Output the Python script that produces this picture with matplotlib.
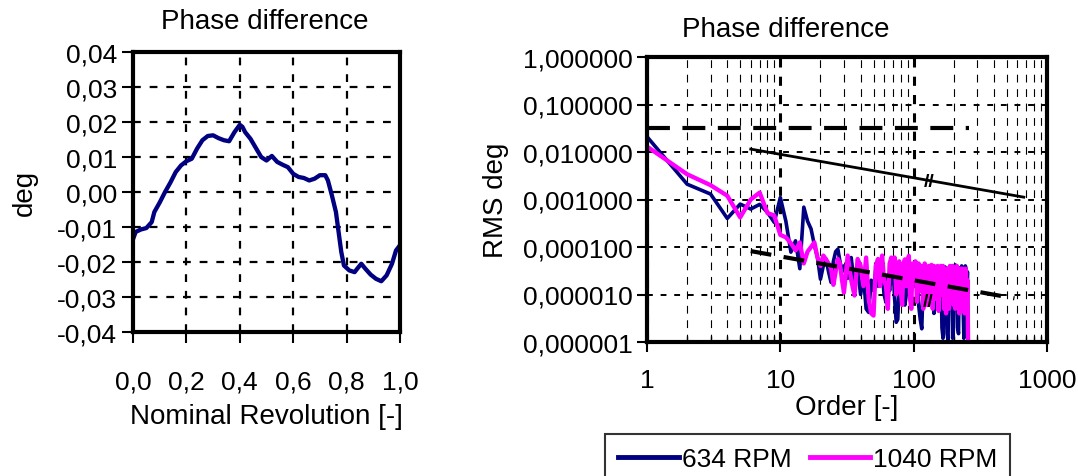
import matplotlib.pyplot as plt
from matplotlib.ticker import NullLocator, LogLocator

plt.rcParams['font.family'] = ['Liberation Sans', 'DejaVu Sans']

# left chart: phase difference over one nominal revolution
rev = [0.0, 0.01, 0.03, 0.05, 0.07, 0.08, 0.10, 0.12, 0.14, 0.16, 0.18, 0.20,
       0.22, 0.24, 0.26, 0.28, 0.30, 0.32, 0.34, 0.36, 0.38, 0.40, 0.41, 0.42,
       0.44, 0.46, 0.48, 0.50, 0.52, 0.54, 0.56, 0.58, 0.60, 0.62, 0.64, 0.66,
       0.68, 0.70, 0.72, 0.73, 0.745, 0.76, 0.77, 0.78, 0.79, 0.81, 0.83, 0.84,
       0.855, 0.87, 0.89, 0.91, 0.93, 0.95, 0.97, 0.985, 1.0]
phase = [-0.0135, -0.0114, -0.0107, -0.0103, -0.0086, -0.0057, -0.0030, 0.0000,
         0.0027, 0.0057, 0.0076, 0.0088, 0.0095, 0.0124, 0.0148, 0.0160, 0.0162,
         0.0154, 0.0148, 0.0145, 0.0171, 0.0192, 0.0186, 0.0171, 0.0152, 0.0126,
         0.0100, 0.0090, 0.0103, 0.0086, 0.0078, 0.0071, 0.0052, 0.0043, 0.0040,
         0.0033, 0.0038, 0.0048, 0.0048, 0.0033, -0.0010, -0.0057, -0.0114,
         -0.0171, -0.0210, -0.0224, -0.0229, -0.0219, -0.0205, -0.0219, -0.0236,
         -0.0248, -0.0255, -0.0238, -0.0205, -0.0167, -0.0152]
left_xticks = [0.0, 0.2, 0.4, 0.6, 0.8, 1.0]
left_xlabels = ["0,0", "0,2", "0,4", "0,6", "0,8", "1,0"]
left_yticks = [0.04, 0.03, 0.02, 0.01, 0.0, -0.01, -0.02, -0.03, -0.04]
left_ylabels = ["0,04", "0,03", "0,02", "0,01", "0,00", "-0,01", "-0,02", "-0,03", "-0,04"]

# right chart: RMS spectrum, harmonic orders
orders = [1, 2, 3, 4, 5, 6, 7, 8, 9, 10,
          11, 12, 13, 14, 15, 16, 17, 18, 19, 20,
          21, 22, 23, 24, 25, 26, 27, 28, 29, 30,
          32, 34, 36, 38, 40, 42, 44, 46, 48, 50,
          52, 54, 56, 58, 60, 62, 64, 66, 68, 70,
          72, 74, 76, 78, 80, 82, 84, 86, 88, 90,
          92, 94, 96, 98, 100,
          103, 106, 109, 112, 115, 118, 121, 124, 127, 130,
          133, 136, 139, 142, 145, 148, 151, 154, 157, 160,
          163, 166, 169, 172, 175, 178, 181, 184, 187, 190,
          193, 196, 199, 202, 205, 208, 211, 214, 217, 220,
          223, 226, 229, 232, 235, 238, 241, 244, 247, 250,
          253, 256]
rms_634 = [2.1e-2, 2.1e-3, 1.3e-3, 4.0e-4, 8.0e-4, 6.3e-4, 7.9e-4, 5.4e-4, 3.3e-4, 1.1e-3,
           3.5e-4, 7.8e-5, 1.35e-4, 3.5e-5, 6.9e-4, 3.5e-4, 2.4e-4, 1.1e-4, 6.0e-5, 2.1e-5,
           4.0e-5, 5.6e-5, 3.0e-5, 1.8e-5, 5.0e-5, 8.0e-5, 9.0e-5, 5.0e-5, 3.0e-5, 4.0e-5,
           2.2e-5, 6.0e-5, 1.5e-5, 3.5e-5, 1.0e-5, 2.5e-5, 5.0e-6, 4.2e-6, 2.0e-5, 1.2e-5,
           3.5e-5, 1.5e-5, 2.1e-5, 3.0e-5, 1.0e-5, 6.8e-6, 2.5e-5, 1.2e-5, 3.0e-5, 4.0e-5,
           8.0e-6, 2.6e-6, 3.0e-6, 2.0e-5, 3.5e-5, 1.5e-5, 3.5e-5, 6.0e-6, 1.0e-5, 3.0e-5,
           2.0e-5, 8.0e-6, 3.0e-5, 1.8e-5, 3.0e-5,
           1.5e-5, 2.5e-5, 6.0e-6, 3.0e-6, 1.9e-6, 2.0e-5, 3.5e-5, 8.0e-6, 3.0e-5, 1.2e-5,
           3.8e-5, 7.0e-6, 2.5e-5, 4.0e-6, 3.0e-5, 1.5e-5, 3.5e-5, 5.0e-6, 2.0e-5, 3.5e-5,
           2.0e-6, 1.2e-6, 3.0e-5, 3.8e-5, 1.0e-5, 1.5e-6, 1.1e-6, 2.5e-5, 3.6e-5, 8.0e-6,
           3.0e-5, 1.2e-6, 2.0e-6, 3.8e-5, 4.2e-5, 1.0e-5, 3.5e-5, 2.0e-6, 1.5e-6, 3.6e-5,
           3.2e-5, 8.0e-6, 4.0e-5, 3.5e-5, 5.0e-6, 1.2e-6, 3.0e-5, 4.0e-5, 3.5e-5, 1.0e-5,
           3.0e-5, 1.0e-6]
rms_1040 = [1.3e-2, 3.4e-3, 2.0e-3, 1.2e-3, 4.2e-4, 1.0e-3, 1.4e-3, 5.2e-4, 4.6e-4, 1.8e-4,
            1.6e-4, 1.2e-4, 8.5e-5, 1.25e-4, 4.5e-5, 8.0e-5, 1.0e-4, 1.25e-4, 6.0e-5, 4.0e-5,
            6.6e-5, 5.5e-5, 4.5e-5, 3.5e-5, 1.6e-5, 3.0e-5, 5.6e-5, 4.5e-5, 2.0e-5, 1.1e-5,
            6.6e-5, 2.0e-5, 9.5e-6, 5.6e-5, 4.0e-5, 1.5e-5, 6.0e-5, 8.0e-6, 4.0e-6, 3.6e-6,
            4.0e-5, 5.6e-5, 1.5e-5, 6.6e-5, 2.0e-5, 1.5e-5, 5.0e-6, 4.5e-5, 6.0e-5, 2.5e-5,
            6.0e-5, 1.0e-5, 4.5e-5, 5.0e-5, 1.2e-5, 6.0e-6, 4.5e-5, 5.5e-5, 1.5e-5, 4.0e-5,
            6.5e-5, 8.0e-6, 5.0e-6, 4.5e-5, 2.5e-5,
            5.0e-5, 7.0e-6, 4.5e-5, 1.2e-5, 4.0e-5, 5.0e-6, 4.5e-5, 3.5e-5, 6.0e-6, 4.0e-5,
            1.0e-5, 4.2e-5, 5.0e-6, 4.0e-5, 3.0e-5, 8.0e-6, 4.0e-5, 4.5e-6, 3.5e-5, 4.0e-5,
            1.0e-5, 4.0e-5, 5.0e-6, 3.5e-5, 4.0e-6, 3.0e-5, 3.5e-5, 5.0e-6, 4.0e-5, 1.0e-5,
            3.5e-5, 4.0e-5, 6.0e-6, 3.5e-5, 5.0e-6, 3.0e-5, 4.0e-5, 8.0e-6, 3.5e-5, 4.0e-6,
            3.0e-5, 3.5e-5, 5.0e-6, 3.5e-5, 8.0e-6, 3.0e-5, 4.0e-6, 3.5e-5, 3.0e-5, 5.0e-6,
            2.0e-5, 1.0e-6]

# guide lines drawn on the spectrum
limit_x = [1, 262]
limit_y = [0.032, 0.032]
slope_x = [6, 670]
slope_y = [0.0115, 0.00112]
trend_x = [6, 570]
trend_y = [8.2e-5, 8.3e-6]

right_xticks = [1, 10, 100, 1000]
right_xlabels = ["1", "10", "100", "1000"]
right_yticks = [1, 0.1, 0.01, 0.001, 0.0001, 0.00001, 0.000001]
right_ylabels = ["1,000000", "0,100000", "0,010000", "0,001000",
                 "0,000100", "0,000010", "0,000001"]

W, H = 1078, 477
fig = plt.figure(figsize=(W / 100, H / 100), dpi=100)

# ---------- left ----------
ax1 = fig.add_axes([133 / W, 1 - 333 / H, 267 / W, 280 / H])
ax1.plot(rev, phase, color="#000080", lw=3.1, solid_joinstyle="round")
ax1.set_xlim(0, 1)
ax1.set_ylim(-0.04, 0.04)
ax1.set_xticks(left_xticks, left_xlabels)
ax1.set_yticks(left_yticks, left_ylabels)
ax1.grid(True, color="black", lw=1.6, linestyle=(0, (3.5, 4)))
ax1.tick_params(labelsize=19, length=8, width=1.5, direction="out")
ax1.tick_params(axis="x", pad=19)
for s in ax1.spines.values():
    s.set_linewidth(3)
ax1.set_xlabel("Nominal Revolution [-]", fontsize=20, labelpad=7)
ax1.set_ylabel("deg", fontsize=20, labelpad=14)
fig.text(265 / W, 1 - 22 / H, "Phase difference", fontsize=20,
         ha="center", va="center")

# ---------- right ----------
ax2 = fig.add_axes([647 / W, 1 - 343 / H, 400 / W, 285 / H])
ax2.set_xscale("log")
ax2.set_yscale("log")
l1, = ax2.plot(orders, rms_634, color="#000080", lw=2.6, label="634 RPM")
l2, = ax2.plot(orders, rms_1040, color="#ff00ff", lw=3.1, label="1040 RPM")
ax2.plot(limit_x, limit_y, color="black", lw=3, linestyle=(0, (5.5, 3)))
ax2.plot(slope_x, slope_y, color="black", lw=2)
ax2.plot(trend_x, trend_y, color="black", lw=3, linestyle=(0, (5, 3)))
ax2.text(130, 0.0024, "//", fontsize=14, fontweight="bold", ha="center", va="center")
ax2.text(128, 7.0e-6, "//", fontsize=14, fontweight="bold", ha="center", va="center")
ax2.set_xlim(1, 1000)
ax2.set_ylim(1e-6, 1)
ax2.set_xticks(right_xticks, right_xlabels)
ax2.set_yticks(right_yticks, right_ylabels)
ax2.xaxis.set_minor_locator(LogLocator(base=10, subs=range(2, 10)))
ax2.xaxis.set_minor_formatter(plt.NullFormatter())
ax2.yaxis.set_minor_locator(NullLocator())
ax2.grid(True, which="major", axis="y", color="black", lw=1.4, linestyle=(0, (3, 4)))
ax2.grid(True, which="major", axis="x", color="black", lw=2.2, linestyle=(0, (3, 3)))
ax2.grid(True, which="minor", axis="x", color="black", lw=0.8, linestyle=(0, (7, 6)))
ax2.tick_params(axis="y", labelsize=19, length=7, width=1.5, direction="out")
ax2.tick_params(axis="x", which="major", labelsize=19, length=14, width=1.5,
                direction="inout", pad=12)
ax2.tick_params(axis="x", which="minor", length=4, width=1, direction="in")
for s in ax2.spines.values():
    s.set_linewidth(3)
ax2.set_xlabel("Order [-]", fontsize=20, labelpad=1)
ax2.set_ylabel("RMS deg", fontsize=20, labelpad=10)
fig.text(786 / W, 1 - 30 / H, "Phase difference", fontsize=20,
         ha="center", va="center")

leg = fig.legend(handles=[l1, l2], loc="upper left",
                 bbox_to_anchor=(605 / W, 1 - 435 / H), ncol=2, fontsize=19,
                 frameon=True, fancybox=False, edgecolor="black",
                 handlelength=2.3, handletextpad=0.1, columnspacing=0.7,
                 borderpad=0.5, borderaxespad=0)
leg.get_frame().set_linewidth(1.5)
for ln in leg.get_lines():
    ln.set_linewidth(3.5)

fig.savefig("out.png", dpi=100)
